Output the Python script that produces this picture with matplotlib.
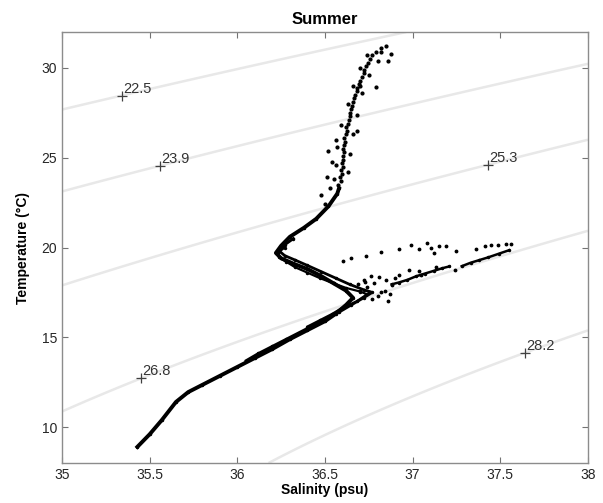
import numpy as np
import matplotlib.pyplot as plt

# Density contour levels (sigma-t) and where their labels sit (salinity)
sigma_levels = [22.5, 23.9, 25.3, 26.8, 28.2]
label_salinity = [35.34, 35.56, 37.43, 35.45, 37.64]

# Main profile, deep water up to the zig (drawn as a thick line)
deep_sal = [35.43, 35.50, 35.57, 35.65, 35.72, 35.80, 35.90, 36.00, 36.10, 36.20,
            36.30, 36.40, 36.50, 36.56, 36.62, 36.66, 36.62, 36.55, 36.48, 36.40,
            36.32, 36.25, 36.22, 36.25, 36.30, 36.38, 36.45, 36.52, 36.57, 36.58]
deep_temp = [8.9, 9.6, 10.4, 11.4, 11.95, 12.35, 12.85, 13.35, 13.85, 14.35,
             14.9, 15.4, 15.9, 16.3, 16.8, 17.2, 17.6, 18.0, 18.4, 18.8,
             19.1, 19.4, 19.7, 20.1, 20.6, 21.1, 21.6, 22.3, 23.0, 23.3]

# Other casts overlapping in the thermocline
cast2_sal = [36.05, 36.12, 36.20, 36.28, 36.35, 36.43, 36.50, 36.58, 36.65, 36.72,
             36.77, 36.72, 36.64, 36.56, 36.48, 36.40, 36.33, 36.27, 36.24, 36.27, 36.32]
cast2_temp = [13.7, 14.1, 14.5, 14.9, 15.25, 15.65, 16.0, 16.4, 16.8, 17.2,
              17.5, 17.65, 17.95, 18.3, 18.65, 19.0, 19.3, 19.55, 19.8, 20.15, 20.5]
cast3_sal = [36.40, 36.47, 36.54, 36.60, 36.68, 36.74, 36.70, 36.62, 36.55, 36.47,
             36.40, 36.33, 36.28, 36.24, 36.23, 36.27]
cast3_temp = [15.6, 15.95, 16.3, 16.65, 17.0, 17.4, 17.55, 17.75, 18.0, 18.3,
              18.6, 18.9, 19.2, 19.45, 19.7, 20.0]

# Upper mixed layer, dotted chain
upper_sal = [36.575, 36.59, 36.585, 36.595, 36.59, 36.60, 36.595, 36.605, 36.60, 36.61,
             36.605, 36.61, 36.615, 36.61, 36.62, 36.625, 36.62, 36.63, 36.635, 36.64,
             36.645, 36.65, 36.655, 36.66, 36.665, 36.67, 36.68, 36.685, 36.695, 36.70,
             36.71, 36.72, 36.725, 36.735, 36.745, 36.755, 36.77, 36.79, 36.82, 36.85,
             36.55, 36.56, 36.57, 36.59, 36.63, 36.66, 36.70, 36.74,
             36.63, 36.64, 36.66, 36.68, 36.71, 36.75, 36.80,
             36.48, 36.51, 36.54, 36.52, 36.56, 36.50, 36.53,
             36.68, 36.79, 36.86, 36.875, 36.82, 36.70]
upper_temp = [23.5, 23.7, 23.9, 24.1, 24.3, 24.5, 24.7, 24.9, 25.1, 25.3,
              25.5, 25.7, 25.9, 26.1, 26.3, 26.5, 26.7, 26.9, 27.1, 27.3,
              27.5, 27.7, 27.9, 28.1, 28.3, 28.5, 28.7, 28.9, 29.1, 29.3,
              29.5, 29.7, 29.9, 30.1, 30.3, 30.5, 30.7, 30.9, 31.1, 31.25,
              23.8, 24.6, 25.6, 26.8, 28.0, 29.0, 30.0, 30.7,
              24.2, 25.2, 26.3, 27.4, 28.6, 29.6, 30.4,
              22.9, 23.9, 24.75, 25.4, 26.0, 22.4, 23.3,
              26.5, 28.95, 30.4, 30.8, 30.9, 29.0]

# Warm salty intrusion: scattered points and the streaks along the isopycnal
scatter_sal = [36.60, 36.65, 36.733, 36.818, 36.92, 36.989, 37.034, 37.08, 37.102, 37.119,
               37.148, 37.193, 37.25, 37.364, 37.415, 37.449, 37.489, 37.534, 37.56,
               36.92, 36.977, 37.034, 37.05, 37.136, 37.244, 36.85, 36.88, 36.90,
               36.70, 36.74, 36.78, 36.82, 36.72, 36.76, 36.80, 36.86, 36.84, 36.77,
               36.69, 36.73, 36.81, 36.87, 36.75]
scatter_temp = [19.24, 19.4, 19.52, 19.74, 19.91, 20.13, 19.91, 20.25, 19.97, 19.69,
                20.08, 20.08, 19.80, 19.91, 20.08, 20.13, 20.13, 20.19, 20.2,
                18.45, 18.73, 18.67, 18.45, 18.90, 18.73, 18.2, 17.9, 18.3,
                17.6, 17.8, 18.0, 17.5, 18.2, 18.4, 17.3, 17.0, 17.6, 17.15,
                17.95, 18.1, 18.35, 17.4, 17.55]
streak_sal = [36.88, 36.92, 36.97, 37.02, 37.07, 37.12, 37.17, 37.21]
streak_temp = [17.95, 18.05, 18.2, 18.4, 18.55, 18.7, 18.85, 18.95]
streak2_sal = [37.28, 37.33, 37.38, 37.43, 37.49, 37.55]
streak2_temp = [18.96, 19.15, 19.3, 19.45, 19.65, 19.85]


def sigma_t(S, T):
    # UNESCO EOS-80 at atmospheric pressure
    rho_w = (999.842594 + 6.793952e-2 * T - 9.095290e-3 * T**2 + 1.001685e-4 * T**3
             - 1.120083e-6 * T**4 + 6.536332e-9 * T**5)
    A = 8.24493e-1 - 4.0899e-3 * T + 7.6438e-5 * T**2 - 8.2467e-7 * T**3 + 5.3875e-9 * T**4
    B = -5.72466e-3 + 1.0227e-4 * T - 1.6546e-6 * T**2
    C = 4.8314e-4
    return rho_w + A * S + B * S**1.5 + C * S**2 - 1000.0


def temp_on_level(S, level):
    lo, hi = 0.0, 40.0
    for _ in range(60):
        mid = 0.5 * (lo + hi)
        if sigma_t(S, mid) > level:
            lo = mid
        else:
            hi = mid
    return 0.5 * (lo + hi)


plt.rcParams['font.family'] = 'Liberation Sans'

fig = plt.figure(figsize=(6.03, 5.03), dpi=100)
ax = fig.add_axes([0.1028, 0.0795, 0.8723, 0.8568])

# density background
sg, tg = np.meshgrid(np.linspace(35, 38, 200), np.linspace(8, 32, 200))
ax.contour(sg, tg, sigma_t(sg, tg), levels=sigma_levels, colors='#e8e8e8', linewidths=1.8)
for s, lev in zip(label_salinity, sigma_levels):
    t = temp_on_level(s, lev)
    ax.plot(s, t, marker='+', color='0.25', ms=7, mew=0.9)
    ax.annotate(f'{lev:.1f}', (s, t), xytext=(1, 0), textcoords='offset points',
                ha='left', va='bottom', fontsize=10.5, color='0.2')

# T-S profile
ax.plot(deep_sal, deep_temp, color='black', lw=2.8, marker='.', ms=3)
ax.plot(cast2_sal, cast2_temp, color='black', lw=2.0, marker='.', ms=3)
ax.plot(cast3_sal, cast3_temp, color='black', lw=1.6, marker='.', ms=3)
ax.plot(upper_sal, upper_temp, ls='none', color='black', marker='.', ms=4)
ax.plot(scatter_sal, scatter_temp, ls='none', color='black', marker='.', ms=3.5)
ax.plot(streak_sal, streak_temp, color='black', lw=1.8, marker='.', ms=3)
ax.plot(streak2_sal, streak2_temp, color='black', lw=1.8, marker='.', ms=3)

ax.set_xlim(35, 38)
ax.set_ylim(8, 32)
ax.set_xticks([35, 35.5, 36, 36.5, 37, 37.5, 38])
ax.set_xticklabels(['35', '35.5', '36', '36.5', '37', '37.5', '38'])
ax.set_yticks([10, 15, 20, 25, 30])
ax.tick_params(direction='in', top=True, right=True, length=4, width=0.8,
               colors='0.45', labelcolor='0.15', labelsize=10)
for sp in ax.spines.values():
    sp.set_color('0.55')
    sp.set_linewidth(1.0)

ax.set_title('Summer', fontsize=12, weight='bold', pad=6)
ax.set_xlabel('Salinity (psu)', fontsize=10, weight='bold', labelpad=1)
ax.set_ylabel('Temperature (\u00b0C)', fontsize=10, weight='bold', labelpad=8)

fig.savefig('out.png', dpi=100)
